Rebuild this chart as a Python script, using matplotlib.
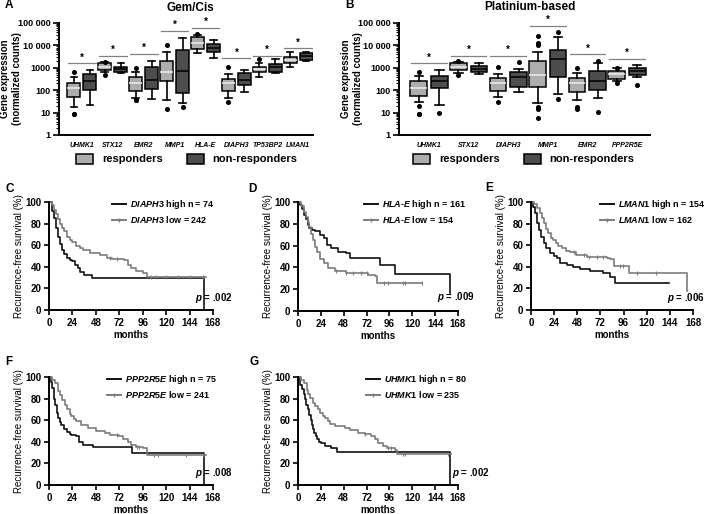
import numpy as np
import matplotlib
matplotlib.use('Agg')
import matplotlib.pyplot as plt
from matplotlib.patches import Patch
from matplotlib.lines import Line2D
from matplotlib.ticker import LogLocator, FixedLocator, FixedFormatter, NullFormatter

plt.rcParams['font.family'] = ['Liberation Sans', 'DejaVu Sans']
plt.rcParams['mathtext.fontset'] = 'custom'
plt.rcParams['mathtext.it'] = 'Liberation Sans:italic:bold'
plt.rcParams['mathtext.rm'] = 'Liberation Sans:bold'
plt.rcParams['mathtext.bf'] = 'Liberation Sans:bold'

W, H = 709, 514

# ---- panel A: Gem/Cis (whisker low, q1, median, q3, whisker high)
a_genes = ['UHMK1', 'STX12', 'EMR2', 'MMP1', 'HLA-E', 'DIAPH3', 'TP53BP2', 'LMAN1']
a_resp = [(18, 48, 121, 216, 400), (680, 800, 1100, 1600, 1750), (43, 95, 200, 380, 670),
          (36, 260, 670, 2000, 4900), (4400, 6700, 12400, 24000, 29000), (43, 91, 215, 315, 510),
          (400, 630, 860, 1100, 1700), (1100, 1600, 2200, 3150, 4900)]
a_resp_fliers = [[8.4, 8.4, 630], [1900, 480], [36, 36, 950], [14, 10500], [33000],
                 [30, 1050], [2400], []]
a_nonresp = [(22, 100, 257, 530, 800), (570, 630, 860, 1100, 1600), (40, 110, 300, 1050, 2000),
             (28, 78, 740, 6200, 21000), (2700, 5000, 7800, 11000, 17000), (86, 170, 300, 600, 800),
             (570, 670, 1050, 1500, 2400), (2100, 2200, 3400, 4700, 5200)]
a_nonresp_fliers = [[], [], [], [17], [], [], [], []]
a_sig = [1600, 3500, 4100, 46000, 62000, 2700, 3500, 7400]

# ---- panel B: Platinium-based
b_genes = ['UHMK1', 'STX12', 'DIAPH3', 'MMP1', 'EMR2', 'PPP2R5E']
b_resp = [(29, 57, 120, 260, 430), (600, 800, 1100, 1600, 1900), (48, 95, 215, 340, 530),
          (26, 145, 480, 2100, 5200), (36, 86, 215, 340, 600), (270, 320, 510, 720, 950)]
b_resp_fliers = [[8.4, 8.4, 20, 630], [480, 2000], [30, 1100], [6, 14, 17, 10500, 13000, 26000],
                 [14, 17, 950], [200, 1000]]
b_nonresp = [(22, 130, 265, 430, 800), (530, 630, 860, 1200, 1600), (86, 140, 380, 630, 860),
             (68, 400, 2400, 6200, 24000), (46, 100, 265, 740, 1600), (400, 480, 740, 1000, 1350)]
b_nonresp_fliers = [[10], [], [1900], [40, 38000], [11, 2100], [170]]
b_sig = [1600, 3400, 3400, 76000, 4000, 2500]

# ---- Kaplan-Meier curves (months, % survival)
c_hi_t = [0, 3, 5, 7, 9, 11, 13, 15, 18, 21, 24, 27, 30, 32, 36, 44, 159]
c_hi_s = [100, 92, 85, 76, 68, 61, 56, 52, 48, 46, 45, 42, 39, 35, 32.5, 29.5, 0]
c_lo_t = [0, 3, 5, 7, 9, 11, 13, 15, 18, 21, 24, 28, 32, 35, 42, 52, 59, 65, 77, 81, 84, 89, 96, 100, 161]
c_lo_s = [100, 97, 93, 89, 84, 80, 76, 73, 68, 65, 63, 59, 57, 56, 53, 51, 48, 47, 46, 42, 39, 36.5, 34.5, 31, 31]
c_cens = [62, 70, 104, 110, 120, 132, 144, 158]

d_hi_t = [0, 2, 4, 6, 8, 10, 12, 15, 18, 23, 27, 30, 35, 42, 50, 55, 86, 102, 160]
d_hi_s = [100, 97, 94, 88, 84, 79, 76, 74, 73, 70, 67, 61, 57.5, 54.5, 53, 49, 42, 34, 16.6]
d_lo_t = [0, 3, 6, 8, 10, 12, 14, 16, 18, 20, 23, 27, 32, 39, 50, 60, 74, 81, 83, 130]
d_lo_s = [100, 96, 91, 86, 82, 77, 71, 65, 59, 54, 48, 44, 39, 37, 35, 34.5, 33, 32, 25.5, 25.5]
d_cens = [40, 50, 58, 66, 72, 90, 95, 110, 112, 130]

e_hi_t = [0, 2, 4, 6, 8, 10, 13, 16, 20, 24, 27, 30, 37, 44, 51, 61, 75, 82, 87, 143]
e_hi_s = [100, 95, 90, 81, 74, 68, 62, 57.5, 53, 50, 48, 43.7, 42, 40, 38, 36, 34.5, 31, 25, 25]
e_lo_t = [0, 3, 6, 9, 11, 13, 16, 18, 21, 23, 26, 28, 32, 36, 40, 47, 58, 79, 82, 86, 102, 162]
e_lo_s = [100, 98, 94.5, 90, 85, 80.6, 75, 71.4, 67, 65, 62, 59, 57, 55, 53.5, 51, 49, 48, 46.8, 40.6, 34.5, 17.5]
e_cens = [45, 55, 60, 68, 75, 92, 95, 110, 130]

f_hi_t = [0, 2, 3.4, 5, 6, 8, 9, 11, 12.6, 15, 18, 21, 23, 28, 31, 35, 45, 85, 159]
f_hi_s = [100, 95, 90, 80, 74, 67, 62, 58, 56, 52, 49.5, 47, 46, 45, 40, 37, 35.6, 30, 0]
f_lo_t = [0, 3, 6, 9, 11, 13, 16, 18, 21, 23, 26, 28, 33, 40, 48, 57, 62, 72, 76, 81, 84, 89, 96, 100, 161]
f_lo_s = [100, 97, 94, 87, 83, 79, 74, 70, 66, 63.5, 61, 59, 56, 52.6, 50, 48, 46, 45, 43, 40, 37, 35.6, 34, 28, 28]
f_cens = [70, 90, 92, 108, 112, 140, 158]

g_hi_t = [0, 2.4, 4, 6, 7, 8.4, 10, 12, 13.5, 15, 16, 17, 18.5, 20, 22, 24, 28, 35, 41, 160]
g_hi_s = [100, 93, 89, 84, 80, 74.5, 70, 65, 60, 56, 52, 48, 45, 42.5, 40, 39, 36, 34, 31, 0]
g_lo_t = [0, 3, 6, 9.4, 11, 13, 16, 18, 21, 23, 26, 28.6, 31, 34, 39, 49.5, 55, 63, 70, 77, 81, 84,
          89.5, 93, 102, 103.5, 161]
g_lo_s = [100, 97, 94.5, 88, 84, 80.6, 76, 73, 70, 67, 64, 62, 59, 56.6, 54.5, 53, 50.5, 48, 47, 45, 43,
          39, 36, 34, 32, 29, 29]
g_cens = [70, 95, 98, 110, 112, 158]

LIGHT = '#adadad'
DARK = '#4d4d4d'
GRAYLINE = '#7c7c7c'


def rect(x0, y0, x1, y1):
    return [x0 / W, 1 - y1 / H, (x1 - x0) / W, (y1 - y0) / H]


def fx(x):
    return x / W


def fy(y):
    return 1 - y / H


def gene_tex(g):
    return '-'.join('$\\mathit{%s}$' % p for p in g.split('-'))


def stats_from(rows, fliers):
    out = []
    for (lo, q1, med, q3, hi), fl in zip(rows, fliers):
        out.append(dict(whislo=lo, q1=q1, med=med, q3=q3, whishi=hi, fliers=fl))
    return out


fig = plt.figure(figsize=(W / 100, H / 100), dpi=100)


def box_panel(box, genes, resp, resp_fl, nonresp, nonresp_fl, sig, xlim):
    ax = fig.add_axes(rect(*box))
    pos = np.arange(len(genes))
    common = dict(widths=0.42, patch_artist=True, showfliers=True,
                  whiskerprops=dict(color='black', linewidth=1.2),
                  capprops=dict(color='black', linewidth=1.2),
                  flierprops=dict(marker='o', markersize=2.6, markerfacecolor='black',
                                  markeredgecolor='black'))
    ax.bxp(stats_from(resp, resp_fl), positions=pos - 0.26,
           boxprops=dict(facecolor=LIGHT, edgecolor='black', linewidth=1.1),
           medianprops=dict(color='#eeeeee', linewidth=1.1), **common)
    ax.bxp(stats_from(nonresp, nonresp_fl), positions=pos + 0.26,
           boxprops=dict(facecolor=DARK, edgecolor='black', linewidth=1.1),
           medianprops=dict(color='black', linewidth=1.1), **common)
    for p, s in zip(pos, sig):
        ax.plot([p - 0.45, p + 0.45], [s, s], color='#808080', linewidth=0.9)
        ax.text(p, s * 1.08, '*', ha='center', va='bottom', fontsize=7, fontweight='bold')
    ax.set_yscale('log')
    ax.set_ylim(1, 100000)
    ax.set_xlim(*xlim)
    ax.yaxis.set_major_locator(FixedLocator([1, 10, 100, 1000, 10000, 100000]))
    ax.yaxis.set_major_formatter(FixedFormatter(['1', '10', '100', '1000', '10 000', '100 000']))
    ax.yaxis.set_minor_locator(LogLocator(base=10, subs=np.arange(2, 10)))
    ax.yaxis.set_minor_formatter(NullFormatter())
    ax.tick_params(axis='y', which='major', length=4, width=1.2, labelsize=6.5, pad=2)
    ax.tick_params(axis='y', which='minor', length=2, width=0.8)
    ax.set_xticks(pos)
    ax.set_xticklabels(genes, fontstyle='italic', fontweight='bold', fontsize=5)
    ax.tick_params(axis='x', length=0, pad=5)
    for lab in ax.get_yticklabels():
        lab.set_fontweight('bold')
    for side in ['top', 'right']:
        ax.spines[side].set_visible(False)
    for side in ['left', 'bottom']:
        ax.spines[side].set_linewidth(1.4)
    return ax


axA = box_panel((59, 23, 313, 135), a_genes, a_resp, a_resp_fliers, a_nonresp, a_nonresp_fliers,
                a_sig, (-0.74, 7.48))
axB = box_panel((399, 23, 650, 135), b_genes, b_resp, b_resp_fliers, b_nonresp, b_nonresp_fliers,
                b_sig, (-0.76, 5.58))

for cx in (11, 352):
    fig.text(fx(cx), fy(79), 'Gene expression\n(normalized counts)', rotation=90, ha='center',
             va='center', fontsize=7, fontweight='bold', linespacing=1.15)
fig.text(fx(190), fy(8), 'Gem/Cis', ha='center', va='center', fontsize=8.5, fontweight='bold')
fig.text(fx(530), fy(7), 'Platinium-based', ha='center', va='center', fontsize=8.5, fontweight='bold')

box_handles = [Patch(facecolor=LIGHT, edgecolor='black', linewidth=1.1),
               Patch(facecolor=DARK, edgecolor='black', linewidth=1.1)]
for cx in (187, 524):
    fig.legend(box_handles, ['responders', 'non-responders'], loc='center',
               bbox_to_anchor=(fx(cx), fy(159)), ncol=2, frameon=False,
               prop=dict(weight='bold', size=8), handlelength=1.5, handleheight=1.0,
               handletextpad=0.8, columnspacing=2.2)


def step_value(t, s, c):
    i = np.searchsorted(t, c, side='right') - 1
    return s[i]


def km_panel(box, hi_t, hi_s, lo_t, lo_s, cens, gene, n_hi, n_lo, pval, p_xy, leg_xy):
    ax = fig.add_axes(rect(*box))
    ax.step(hi_t, hi_s, where='post', color='#111111', linewidth=1.2, clip_on=False)
    ax.step(lo_t, lo_s, where='post', color=GRAYLINE, linewidth=1.2, clip_on=False)
    cy = [step_value(np.array(lo_t), np.array(lo_s), c) for c in cens]
    ax.plot(cens, cy, linestyle='none', marker='|', markersize=3, color=GRAYLINE,
            markeredgewidth=0.8, clip_on=False)
    ax.set_xlim(0, 168)
    ax.set_ylim(0, 100)
    ax.set_xticks(np.arange(0, 169, 24))
    ax.set_yticks(np.arange(0, 101, 20))
    ax.tick_params(length=3.5, width=1.2, labelsize=7, pad=2)
    for lab in ax.get_xticklabels() + ax.get_yticklabels():
        lab.set_fontweight('bold')
    for side in ['top', 'right']:
        ax.spines[side].set_visible(False)
    for side in ['left', 'bottom']:
        ax.spines[side].set_linewidth(1.4)
    ax.set_xlabel('months', fontsize=7, fontweight='bold', labelpad=2)
    ax.set_ylabel('Recurrence-free survival (%)', fontsize=7, labelpad=1)
    handles = [Line2D([], [], color='#111111', linewidth=1.4),
               Line2D([], [], color=GRAYLINE, linewidth=1.4, marker='|', markersize=3)]
    labels = ['%s high n = %d' % (gene_tex(gene), n_hi), '%s low = %d' % (gene_tex(gene), n_lo)]
    ax.legend(handles, labels, loc='upper left', bbox_to_anchor=(fx(leg_xy[0]), fy(leg_xy[1])),
              bbox_transform=fig.transFigure, frameon=False, prop=dict(weight='bold', size=6.5),
              handlelength=1.5, handletextpad=0.5, labelspacing=0.3, borderpad=0, borderaxespad=0)
    fig.text(fx(p_xy[0]), fy(p_xy[1]), '$\\mathit{p}$ = %s' % pval, ha='left', va='center',
             fontsize=7, fontweight='bold')
    return ax


km_panel((49, 202, 213, 310), c_hi_t, c_hi_s, c_lo_t, c_lo_s, c_cens, 'DIAPH3', 74, 242,
         '.002', (195, 298), (112, 198))
km_panel((298, 202, 458, 311), d_hi_t, d_hi_s, d_lo_t, d_lo_s, d_cens, 'HLA-E', 161, 154,
         '.009', (437, 297), (364, 198))
km_panel((531, 202, 693, 310), e_hi_t, e_hi_s, e_lo_t, e_lo_s, e_cens, 'LMAN1', 154, 162,
         '.006', (667, 298), (600, 198))
km_panel((49, 377, 213, 485), f_hi_t, f_hi_s, f_lo_t, f_lo_s, f_cens, 'PPP2R5E', 75, 241,
         '.008', (195, 473), (107, 373))
km_panel((298, 377, 458, 485), g_hi_t, g_hi_s, g_lo_t, g_lo_s, g_cens, 'UHMK1', 80, 235,
         '.002', (452, 473), (366, 373))

for letter, x, y in [('A', 5, 5), ('B', 345, 5), ('C', 5, 189), ('D', 248, 189), ('E', 485, 188),
                     ('F', 5, 362), ('G', 250, 362)]:
    fig.text(fx(x), fy(y), letter, ha='left', va='center', fontsize=8.5, fontweight='bold')

fig.savefig('out.png', dpi=100)
